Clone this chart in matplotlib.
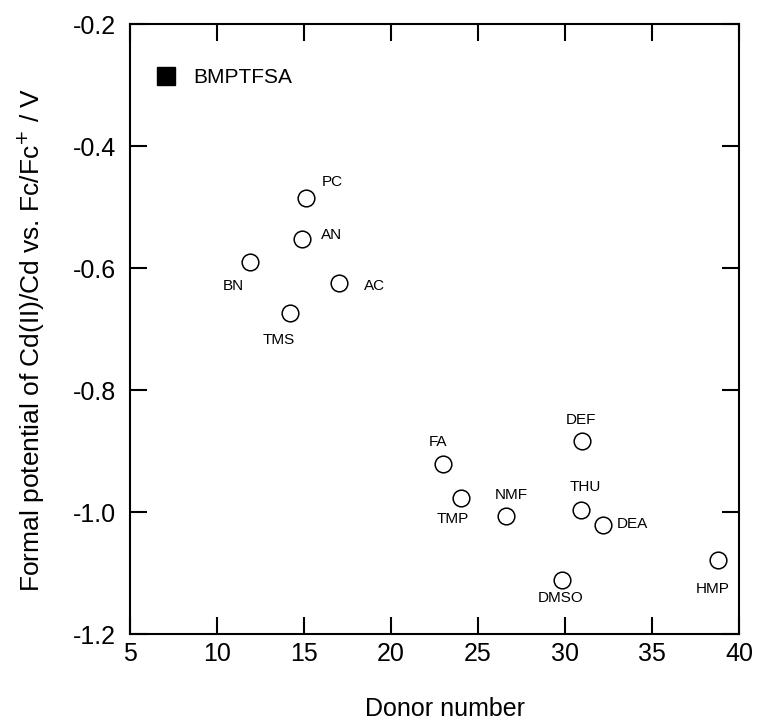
import matplotlib
matplotlib.use("Agg")
import matplotlib.pyplot as plt

plt.rcParams['font.family'] = ['Liberation Sans', 'DejaVu Sans']
plt.rcParams['axes.unicode_minus'] = False

# Solvents: donor number vs. formal potential of Cd(II)/Cd
solvents = ["PC", "AN", "BN", "AC", "TMS", "FA", "TMP", "NMF",
            "DEF", "THU", "DEA", "DMSO", "HMP"]
donor_number = [15.1, 14.9, 11.9, 17.0, 14.2, 23.0, 24.0, 26.6,
                31.0, 30.9, 32.2, 29.8, 38.8]
formal_potential = [-0.486, -0.552, -0.590, -0.625, -0.673, -0.922, -0.977, -1.007,
                    -0.883, -0.996, -1.022, -1.112, -1.078]

# BMPTFSA value lies outside the plotted range (legend entry only)
ionic_liquid_x = []
ionic_liquid_y = []

x_ticks = [5, 10, 15, 20, 25, 30, 35, 40]
y_ticks = [-1.2, -1.0, -0.8, -0.6, -0.4, -0.2]

# label offsets (points) relative to each marker
label_offsets = {
    "PC": (19, 12), "AN": (21, 3), "BN": (-12, -17), "AC": (26, -2),
    "TMS": (-8, -20), "FA": (-4, 16), "TMP": (-6, -15), "NMF": (4, 15),
    "DEF": (-1, 15), "THU": (3, 16), "DEA": (21, 1), "DMSO": (-1, -13),
    "HMP": (-4, -21),
}

fig = plt.figure(figsize=(7.58, 7.22), dpi=100)
ax = fig.add_axes([130 / 758, 1 - 634 / 722, (739 - 130) / 758, (634 - 24) / 722])

ax.plot(donor_number, formal_potential, linestyle='none', marker='o',
        markersize=12, markerfacecolor='white', markeredgecolor='black',
        markeredgewidth=1.1)
ax.plot(ionic_liquid_x, ionic_liquid_y, linestyle='none', marker='s',
        markersize=13, color='black', label='BMPTFSA')

for name, x, y in zip(solvents, donor_number, formal_potential):
    dx, dy = label_offsets[name]
    ax.annotate(name, (x, y), xytext=(dx, dy), textcoords='offset points',
                ha='center', va='center', fontsize=11)

ax.set_xlim(5, 40)
ax.set_ylim(-1.2, -0.2)
ax.set_xticks(x_ticks)
ax.set_yticks(y_ticks)
ax.set_xticklabels([str(v) for v in x_ticks])
ax.set_yticklabels([f"{v:.1f}" for v in y_ticks])

ax.tick_params(direction='in', length=12, width=1.5, labelsize=18,
               top=True, right=True)
ax.tick_params(axis='y', pad=10)
ax.tick_params(axis='x', pad=6)
for s in ax.spines.values():
    s.set_linewidth(1.5)

fig.text(445 / 758, 1 - 709 / 722, "Donor number", fontsize=18,
         ha='center', va='center')
fig.text(31 / 758, 1 - 340 / 722,
         r"Formal potential of Cd(II)/Cd vs. Fc/Fc$^{+}$ / V",
         fontsize=19, rotation=90, ha='center', va='center')

leg = ax.legend(loc='upper left', bbox_to_anchor=(0.008, 0.962), frameon=False,
                fontsize=15, handlelength=1.0, handletextpad=0.8,
                borderaxespad=0.6, numpoints=1)

fig.savefig("out.png", dpi=100)
